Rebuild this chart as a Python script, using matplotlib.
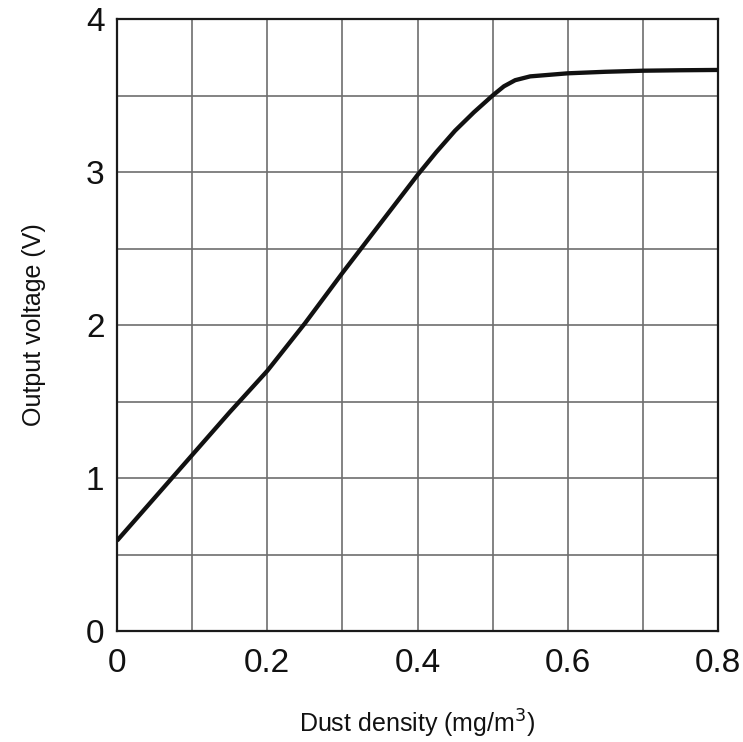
import numpy as np
import matplotlib
matplotlib.use("Agg")
import matplotlib.pyplot as plt
from matplotlib.ticker import MultipleLocator

plt.rcParams['font.family'] = ['Liberation Sans', 'DejaVu Sans']

# curve
dust = [0.0, 0.05, 0.1, 0.15, 0.2, 0.25, 0.3, 0.35, 0.4, 0.425, 0.45, 0.475,
        0.5, 0.515, 0.53, 0.55, 0.6, 0.65, 0.7, 0.75, 0.8]
volts = [0.59, 0.87, 1.15, 1.43, 1.70, 2.01, 2.34, 2.66, 2.98, 3.13, 3.27, 3.39,
         3.50, 3.56, 3.60, 3.625, 3.645, 3.655, 3.662, 3.665, 3.667]

xticks = [0, 0.2, 0.4, 0.6, 0.8]
xtick_labels = ['0', '0.2', '0.4', '0.6', '0.8']
yticks = [0, 1, 2, 3, 4]
ytick_labels = ['0', '1', '2', '3', '4']

fig = plt.figure(figsize=(7.43, 7.42), dpi=100)
ax = fig.add_axes([117/743, 111/742, 601/743, 612/742])

ax.plot(dust, volts, color='#111111', lw=3.1, solid_joinstyle='round',
        solid_capstyle='butt', zorder=3)

ax.set_xlim(0, 0.8)
ax.set_ylim(0, 4)
ax.set_xticks(xticks)
ax.set_xticklabels(xtick_labels)
ax.set_yticks(yticks)
ax.set_yticklabels(ytick_labels)
ax.xaxis.set_minor_locator(MultipleLocator(0.1))
ax.yaxis.set_minor_locator(MultipleLocator(0.5))
ax.grid(True, which='both', color='#6e6e6e', lw=1.2, zorder=1)
ax.tick_params(which='both', length=0)
ax.tick_params(axis='x', labelsize=24, pad=12, colors='#111111')
ax.tick_params(axis='y', labelsize=24, pad=9, colors='#111111')

for s in ax.spines.values():
    s.set_linewidth(1.6)
    s.set_color('#1a1a1a')

ax.set_xlabel('Dust density (mg/m$^3$)', fontsize=18, labelpad=21, color='#111111')
ax.set_ylabel('Output voltage (V)', fontsize=18, labelpad=29, color='#111111')

fig.savefig('out.png', dpi=100)
